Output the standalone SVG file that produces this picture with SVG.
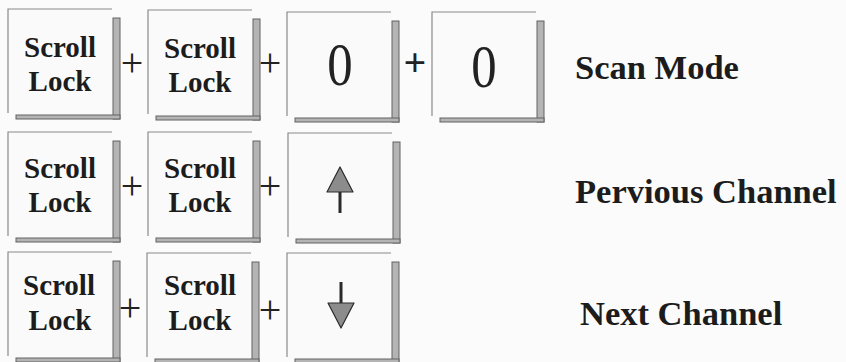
<svg xmlns="http://www.w3.org/2000/svg" xmlns:xlink="http://www.w3.org/1999/xlink" width="846" height="362" viewBox="0 0 846 362">
<style>
.bg{fill:#fbfbfb}
.face{fill:#fafafa;stroke:none}
.edge{fill:none;stroke:#8a8a8a;stroke-width:1.2}
.sh{fill:#b4b4b4;stroke:#626262;stroke-width:1}
.kt{font-family:"Liberation Serif","Times New Roman",serif;font-weight:bold;font-size:29px;fill:#1c1c1c;text-anchor:middle}
.zero{font-family:"Liberation Serif","Times New Roman",serif;font-size:62px;fill:#222;text-anchor:middle}
.plus{font-family:"Liberation Serif","Times New Roman",serif;font-size:40px;fill:#222;text-anchor:middle}
.lbl{font-family:"Liberation Serif","Times New Roman",serif;font-weight:bold;font-size:34.5px;fill:#1c1c1c}
.arr{fill:#8c8c8c;stroke:#2a2a2a;stroke-width:1.2;stroke-linejoin:round}
.shaft{stroke:#2a2a2a;stroke-width:3;fill:none}
</style>
<defs>
<g id="key">
<rect class="face" x="0" y="0" width="105" height="106"/>
<path class="edge" d="M0,104 V0 H104"/>
<rect class="sh" x="105" y="9" width="7" height="101"/>
<rect class="sh" x="8" y="106" width="104" height="4"/>
</g>
</defs>
<rect class="bg" x="0" y="0" width="846" height="362"/>

<g id="row1">
<g id="r1k1"><use xlink:href="#key" x="8" y="9"/><text class="kt" x="60" y="57">Scroll</text><text class="kt" x="60" y="91">Lock</text></g>
<text class="plus" x="132" y="76">+</text>
<g id="r1k2"><use xlink:href="#key" x="148" y="10"/><text class="kt" x="200" y="58">Scroll</text><text class="kt" x="200" y="92">Lock</text></g>
<text class="plus" x="270" y="76">+</text>
<g id="r1k3"><use xlink:href="#key" x="287" y="12"/><text class="zero" transform="translate(340,85) scale(0.82,1)">0</text></g>
<text class="plus" x="415" y="76" font-weight="bold">+</text>
<g id="r1k4"><use xlink:href="#key" x="432" y="12"/><text class="zero" transform="translate(484,87) scale(0.82,1)">0</text></g>
<text class="lbl" x="575" y="79">Scan Mode</text>
</g>

<g id="row2">
<g id="r2k1"><use xlink:href="#key" x="8" y="132"/><text class="kt" x="60" y="178">Scroll</text><text class="kt" x="60" y="212">Lock</text></g>
<text class="plus" x="132" y="199">+</text>
<g id="r2k2"><use xlink:href="#key" x="148" y="132"/><text class="kt" x="200" y="178">Scroll</text><text class="kt" x="200" y="212">Lock</text></g>
<text class="plus" x="270" y="199">+</text>
<g id="r2k3"><use xlink:href="#key" x="288" y="133"/>
<line class="shaft" x1="340" y1="190" x2="340" y2="213"/>
<path class="arr" d="M340,167 L353,192 L327,192 Z"/></g>
<text class="lbl" x="575" y="203">Pervious Channel</text>
</g>

<g id="row3">
<g id="r3k1"><use xlink:href="#key" x="8" y="252"/><text class="kt" x="59" y="295">Scroll</text><text class="kt" x="60" y="330">Lock</text></g>
<text class="plus" x="130" y="321">+</text>
<g id="r3k2"><use xlink:href="#key" x="147" y="253"/><text class="kt" x="200" y="295">Scroll</text><text class="kt" x="200" y="330">Lock</text></g>
<text class="plus" x="270" y="323">+</text>
<g id="r3k3"><use xlink:href="#key" x="287" y="253"/>
<line class="shaft" x1="341" y1="282" x2="341" y2="305"/>
<path class="arr" d="M341,328 L354,303 L328,303 Z"/></g>
<text class="lbl" x="580" y="325">Next Channel</text>
</g>
</svg>
